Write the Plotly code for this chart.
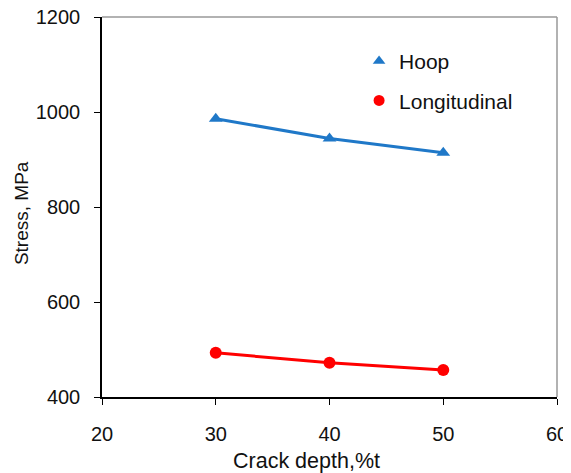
import plotly.graph_objects as go

depth = [30, 40, 50]
hoop = [986, 944, 914]
longitudinal = [493, 472, 457]
x_ticks = [20, 30, 40, 50, 60]
y_ticks = [400, 600, 800, 1000, 1200]

blue = "#1F78C8"
red = "#FF0000"
font = "Liberation Sans, Arial, sans-serif"

fig = go.Figure()
fig.add_trace(go.Scatter(x=depth, y=hoop, mode="lines+markers", showlegend=False,
                         line=dict(color=blue, width=3),
                         marker=dict(symbol="triangle-up", size=12, color=blue)))
fig.add_trace(go.Scatter(x=depth, y=longitudinal, mode="lines+markers", showlegend=False,
                         line=dict(color=red, width=3),
                         marker=dict(symbol="circle", size=12, color=red)))
# legend entries (markers only)
fig.add_trace(go.Scatter(x=[None], y=[None], mode="markers", name="Hoop", legendgroup="a",
                         marker=dict(symbol="triangle-up", size=11, color=blue)))
fig.add_trace(go.Scatter(x=[None], y=[None], mode="markers", name="Longitudinal", legendgroup="b",
                         marker=dict(symbol="circle", size=11, color=red)))

# page body has an 8px margin, so the figure is 8px smaller and offsets reduced
fig.update_layout(
    width=563, height=465,
    margin=dict(l=94, r=14, t=9, b=76),
    paper_bgcolor="white", plot_bgcolor="white",
    font=dict(family=font, size=20, color="#111111"),
    legend=dict(x=0.565, y=0.937, xanchor="left", yanchor="top",
                bgcolor="rgba(0,0,0,0)", tracegroupgap=9,
                font=dict(size=21, color="#111111"), itemwidth=30),
    xaxis=dict(range=[20, 60], tickvals=x_ticks, showgrid=False, zeroline=False,
               showline=True, linecolor="black", linewidth=1.5, mirror=False,
               ticks="outside", ticklen=6, tickcolor="black", ticklabelstandoff=12,
               automargin=False, ticklabeloverflow="allow"),
    yaxis=dict(range=[400, 1200], tickvals=y_ticks, showgrid=False, zeroline=False,
               showline=True, linecolor="black", linewidth=1.5,
               ticks="outside", ticklen=6, tickcolor="black", ticklabelstandoff=10,
               automargin=False, ticklabeloverflow="allow"),
    annotations=[
        dict(text="Crack depth,%t", xref="paper", yref="paper", x=0.45, y=-0.168,
             xanchor="center", yanchor="middle", showarrow=False,
             font=dict(size=21.5, color="#111111")),
        dict(text="Stress, MPa", xref="paper", yref="paper", x=-0.178, y=0.484,
             xanchor="center", yanchor="middle", showarrow=False, textangle=-90,
             font=dict(size=19, color="#111111")),
    ],
    shapes=[
        dict(type="line", xref="paper", yref="paper", x0=0, x1=1, y0=1, y1=1,
             line=dict(color="#999999", width=1.5)),
        dict(type="line", xref="paper", yref="paper", x0=1, x1=1, y0=0, y1=1,
             line=dict(color="#999999", width=1.5)),
    ],
)

fig.write_html("out.html")
